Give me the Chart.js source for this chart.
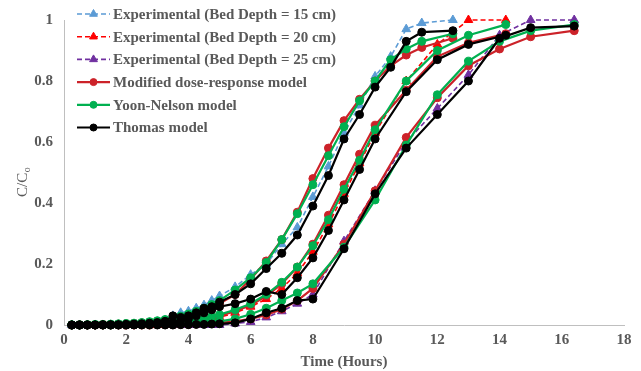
<!DOCTYPE html>
<html>
<head>
<meta charset="utf-8">
<title>Breakthrough curves</title>
<script src="https://cdn.jsdelivr.net/npm/chart.js@4.4.1/dist/chart.umd.min.js"></script>
<style>
  html, body { margin: 0; padding: 0; background: #ffffff; }
  #chartWrap { width: 641px; height: 371px; }
</style>
</head>
<body>
<div id="chartWrap"><canvas id="chartBreakthrough" width="641" height="371"></canvas></div>
<script>
// sampling times (hours) for each bed depth
const t15 = [0.25, 0.5, 0.75, 1, 1.25, 1.5, 1.75, 2, 2.25, 2.5, 2.75, 3, 3.25, 3.5, 3.75, 4, 4.25, 4.5, 4.75, 5,
  5.5, 6, 6.5, 7, 7.5, 8, 8.5, 9, 9.5, 10, 10.5, 11, 11.5, 12.5];
const t20 = [0.25, 0.5, 0.75, 1, 1.25, 1.5, 1.75, 2, 2.25, 2.5, 2.75, 3, 3.25, 3.5, 3.75, 4, 4.25, 4.5, 4.75, 5,
  5.5, 6, 6.5, 7, 7.5, 8, 8.5, 9, 9.5, 10, 11, 12, 13, 14.2];
const t25 = [0.25, 0.5, 0.75, 1, 1.25, 1.5, 1.75, 2, 2.25, 2.5, 2.75, 3, 3.25, 3.5, 3.75, 4, 4.25, 4.5, 4.75, 5,
  5.5, 6, 6.5, 7, 7.5, 8, 9, 10, 11, 12, 13, 14, 15, 16.4];

// C/Co, experimental
const exp15 = [0, 0, 0, 0, 0, 0, 0, 0, 0, 0.002, 0.005, 0.01, 0.015, 0.03, 0.04, 0.045, 0.055, 0.065, 0.08, 0.095,
  0.125, 0.165, 0.2, 0.265, 0.32, 0.42, 0.52, 0.63, 0.72, 0.815, 0.88, 0.97, 0.99, 1.0];
const exp20 = [0, 0, 0, 0, 0, 0, 0, 0, 0, 0, 0, 0, 0.002, 0.004, 0.006, 0.009, 0.012, 0.016, 0.02, 0.025,
  0.04, 0.06, 0.085, 0.12, 0.17, 0.24, 0.33, 0.43, 0.53, 0.63, 0.8, 0.92, 1.0, 1.0];
const exp25 = [0, 0, 0, 0, 0, 0, 0, 0, 0, 0, 0, 0, 0, 0, 0, 0, 0, 0, 0, 0,
  0.005, 0.01, 0.025, 0.045, 0.07, 0.1, 0.275, 0.44, 0.6, 0.71, 0.82, 0.95, 1.0, 1.0];

// Modified dose-response model
const mdr15 = [0, 0.001, 0.001, 0.001, 0.002, 0.002, 0.003, 0.004, 0.005, 0.007, 0.009, 0.012, 0.015, 0.019, 0.024, 0.03, 0.037, 0.046, 0.057, 0.07,
  0.1, 0.15, 0.21, 0.28, 0.37, 0.48, 0.58, 0.67, 0.74, 0.8, 0.85, 0.885, 0.91, 0.94];
const mdr20 = [0, 0, 0, 0, 0, 0.001, 0.001, 0.001, 0.002, 0.002, 0.003, 0.004, 0.005, 0.007, 0.009, 0.012, 0.015, 0.019, 0.024, 0.03,
  0.045, 0.065, 0.095, 0.135, 0.19, 0.265, 0.36, 0.46, 0.56, 0.655, 0.77, 0.88, 0.925, 0.955];
const mdr25 = [0, 0, 0, 0, 0, 0, 0, 0, 0, 0, 0, 0.001, 0.001, 0.001, 0.002, 0.002, 0.003, 0.004, 0.005, 0.007,
  0.012, 0.02, 0.033, 0.052, 0.08, 0.12, 0.265, 0.44, 0.615, 0.745, 0.85, 0.905, 0.945, 0.965];

// Yoon-Nelson model
const yn15 = [0.001, 0.001, 0.001, 0.002, 0.002, 0.003, 0.004, 0.005, 0.006, 0.008, 0.011, 0.014, 0.018, 0.023, 0.029, 0.036, 0.045, 0.055, 0.067, 0.08,
  0.115, 0.155, 0.205, 0.28, 0.365, 0.46, 0.555, 0.65, 0.735, 0.8, 0.87, 0.905, 0.93, 0.955];
const yn20 = [0, 0, 0.001, 0.001, 0.001, 0.001, 0.002, 0.002, 0.003, 0.003, 0.004, 0.005, 0.007, 0.009, 0.011, 0.014, 0.018, 0.022, 0.028, 0.034,
  0.05, 0.07, 0.1, 0.14, 0.19, 0.26, 0.345, 0.445, 0.54, 0.64, 0.8, 0.9, 0.95, 0.985];
const yn25 = [0, 0, 0, 0, 0, 0, 0.001, 0.001, 0.001, 0.001, 0.002, 0.002, 0.003, 0.003, 0.004, 0.005, 0.006, 0.008, 0.01, 0.012,
  0.02, 0.035, 0.055, 0.08, 0.105, 0.135, 0.255, 0.41, 0.59, 0.755, 0.865, 0.93, 0.965, 0.985];

// Thomas model
const th15 = [0, 0, 0, 0, 0.001, 0.001, 0.001, 0.002, 0.003, 0.004, 0.006, 0.008, 0.012, 0.03, 0.025, 0.03, 0.04, 0.055, 0.06, 0.075,
  0.1, 0.135, 0.185, 0.235, 0.295, 0.39, 0.49, 0.61, 0.69, 0.78, 0.845, 0.93, 0.96, 0.965];
const th20 = [0, 0, 0, 0, 0, 0, 0, 0.001, 0.001, 0.002, 0.003, 0.004, 0.006, 0.009, 0.014, 0.02, 0.03, 0.04, 0.05, 0.06,
  0.07, 0.085, 0.11, 0.1, 0.155, 0.22, 0.31, 0.41, 0.51, 0.61, 0.765, 0.87, 0.92, 0.95];
const th25 = [0, 0, 0, 0, 0, 0, 0, 0, 0, 0, 0, 0, 0, 0, 0.001, 0.001, 0.002, 0.002, 0.003, 0.004,
  0.007, 0.02, 0.04, 0.055, 0.08, 0.085, 0.25, 0.43, 0.58, 0.69, 0.8, 0.94, 0.975, 0.98];

const xTicks = [0, 2, 4, 6, 8, 10, 12, 14, 16, 18];
const yTicks = [0, 0.2, 0.4, 0.6, 0.8, 1];

(() => {
  const canvas = document.getElementById("chartBreakthrough");
  if (!canvas || typeof Chart === "undefined") {
    return;
  }

  const serif = '"Liberation Serif", "Times New Roman", serif';
  const textGray = "#595959";
  const axisGray = "#bfbfbf";

  function points(times, values) {
    return times.map((t, i) => ({ x: t, y: values[i] }));
  }

  function expSet(label, times, values, color) {
    return {
      label,
      data: points(times, values),
      borderColor: color,
      backgroundColor: color,
      borderWidth: 1.6,
      borderDash: [5, 3],
      pointStyle: "triangle",
      pointRadius: 5,
      pointBorderWidth: 1,
      tension: 0,
      clip: false,
      order: 3,
      inLegend: true,
    };
  }

  function modelSet(label, times, values, color, order, inLegend) {
    return {
      label,
      data: points(times, values),
      borderColor: color,
      backgroundColor: color,
      borderWidth: 2.2,
      pointStyle: "circle",
      pointRadius: 4,
      pointBorderWidth: 1,
      tension: 0,
      clip: false,
      order,
      inLegend,
    };
  }

  const red = "#CC2229";
  const green = "#00B050";
  const black = "#000000";

  const datasets = [
    expSet("Experimental (Bed Depth = 15 cm)", t15, exp15, "#5B9BD5"),
    expSet("Experimental (Bed Depth = 20 cm)", t20, exp20, "#FF0000"),
    expSet("Experimental (Bed Depth = 25 cm)", t25, exp25, "#7030A0"),
    modelSet("Modified dose-response model", t15, mdr15, red, 2, true),
    modelSet("Modified dose-response model 20", t20, mdr20, red, 2, false),
    modelSet("Modified dose-response model 25", t25, mdr25, red, 2, false),
    modelSet("Yoon-Nelson model", t15, yn15, green, 1, true),
    modelSet("Yoon-Nelson model 20", t20, yn20, green, 1, false),
    modelSet("Yoon-Nelson model 25", t25, yn25, green, 1, false),
    modelSet("Thomas model", t15, th15, black, 0, true),
    modelSet("Thomas model 20", t20, th20, black, 0, false),
    modelSet("Thomas model 25", t25, th25, black, 0, false),
  ];

  function drawMarker(ctx, style, x, y, r, color) {
    ctx.save();
    ctx.fillStyle = color;
    ctx.strokeStyle = color;
    ctx.lineWidth = 1;
    ctx.setLineDash([]);
    ctx.beginPath();
    if (style === "triangle") {
      let rad = 0;
      ctx.moveTo(x + Math.sin(rad) * r, y - Math.cos(rad) * r);
      rad += (2 * Math.PI) / 3;
      ctx.lineTo(x + Math.sin(rad) * r, y - Math.cos(rad) * r);
      rad += (2 * Math.PI) / 3;
      ctx.lineTo(x + Math.sin(rad) * r, y - Math.cos(rad) * r);
      ctx.closePath();
    } else {
      ctx.arc(x, y, r, 0, Math.PI * 2);
    }
    ctx.fill();
    ctx.stroke();
    ctx.restore();
  }

  // legend drawn inside the plot, Excel style (line + marker sample)
  const inlineLegend = {
    id: "inlineLegend",
    afterDraw(chart) {
      const ctx = chart.ctx;
      const items = chart.data.datasets.filter((ds) => ds.inLegend);
      const x0 = 77;
      const x1 = 110;
      const top = 14;
      const step = 22.7;
      items.forEach((ds, i) => {
        const y = top + i * step;
        ctx.save();
        ctx.strokeStyle = ds.borderColor;
        ctx.lineWidth = ds.borderWidth;
        ctx.setLineDash(ds.borderDash || []);
        ctx.beginPath();
        ctx.moveTo(x0, y);
        ctx.lineTo(x1, y);
        ctx.stroke();
        ctx.restore();
        drawMarker(ctx, ds.pointStyle, (x0 + x1) / 2, y, ds.pointRadius - 0.5, ds.borderColor);
        ctx.save();
        ctx.fillStyle = textGray;
        ctx.font = `bold 15px ${serif}`;
        ctx.textAlign = "left";
        ctx.textBaseline = "middle";
        ctx.fillText(ds.label, 113, y + 1);
        ctx.restore();
      });
    },
  };

  // y title with subscript "o"
  const yTitle = {
    id: "yTitle",
    afterDraw(chart) {
      const ctx = chart.ctx;
      ctx.save();
      ctx.translate(23, 197);
      ctx.rotate(-Math.PI / 2);
      ctx.fillStyle = textGray;
      ctx.textAlign = "left";
      ctx.textBaseline = "middle";
      ctx.font = `15px ${serif}`;
      ctx.fillText("C/C", 0, 0);
      const w = ctx.measureText("C/C").width;
      ctx.font = `10px ${serif}`;
      ctx.fillText("o", w + 0.5, 4);
      ctx.restore();
    },
  };

  new Chart(canvas, {
    type: "line",
    data: { datasets },
    options: {
      responsive: false,
      animation: false,
      devicePixelRatio: 1,
      layout: { padding: { top: 16, right: 17, bottom: 0, left: 0 } },
      plugins: {
        legend: { display: false },
        tooltip: { enabled: false },
      },
      scales: {
        x: {
          type: "linear",
          min: xTicks[0],
          max: xTicks[xTicks.length - 1],
          afterBuildTicks(scale) {
            scale.ticks = xTicks.map((v) => ({ value: v }));
          },
          ticks: {
            color: textGray,
            font: { family: serif, size: 15, weight: "bold" },
            padding: 6,
            maxRotation: 0,
            autoSkip: false,
          },
          grid: { display: false, drawTicks: false },
          border: { display: true, color: axisGray, width: 1 },
          title: {
            display: true,
            text: "Time (Hours)",
            color: textGray,
            font: { family: serif, size: 15, weight: "bold" },
            padding: { top: 0, bottom: 0 },
          },
          afterFit(scale) {
            scale.height = 46;
          },
        },
        y: {
          type: "linear",
          min: yTicks[0],
          max: yTicks[yTicks.length - 1],
          afterBuildTicks(scale) {
            scale.ticks = yTicks.map((v) => ({ value: v }));
          },
          ticks: {
            color: textGray,
            font: { family: serif, size: 15, weight: "bold" },
            padding: 11,
            callback: (v) => String(Math.round(v * 10) / 10),
          },
          grid: { display: false, drawTicks: false },
          border: { display: true, color: axisGray, width: 1 },
          afterFit(scale) {
            scale.width = 64;
          },
        },
      },
    },
    plugins: [inlineLegend, yTitle],
  });
})();
</script>
</body>
</html>
